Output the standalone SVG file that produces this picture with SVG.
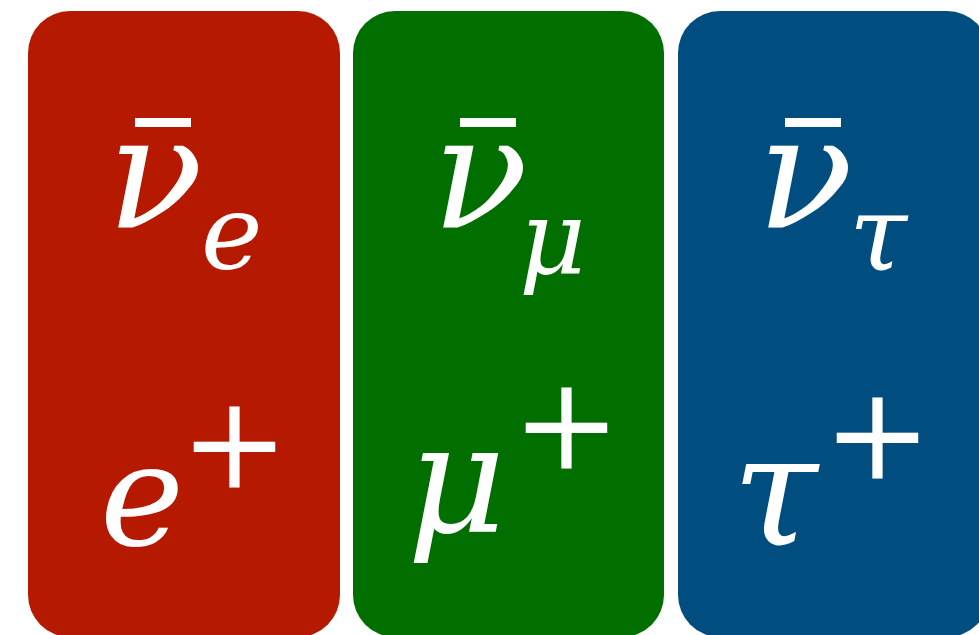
<svg xmlns="http://www.w3.org/2000/svg" width="979" height="635" viewBox="0 0 979 635">
<style>
.m{font-family:"DejaVu Serif",serif;font-style:italic;fill:#fff}
.p{font-family:"DejaVu Serif",serif;fill:#fff}
</style>
<rect width="979" height="635" fill="#fff"/>
<g id="electron">
<rect x="28" y="11" width="312" height="626" rx="42" fill="#B51A00"/>
<rect x="135" y="118" width="56" height="9" fill="#fff"/>
<text class="m" x="107" y="228" font-size="158">ν</text>
<text class="m" x="201" y="269" font-size="104">e</text>
<text class="m" x="100" y="545" font-size="142">e</text>
<text class="p" x="180" y="487" font-size="130">+</text>
</g>
<g id="muon">
<rect x="353" y="11" width="311" height="626" rx="42" fill="#006F00"/>
<rect x="460" y="118" width="56" height="9" fill="#fff"/>
<text class="m" x="432" y="228" font-size="158">ν</text>
<text class="m" x="519" y="274" font-size="103">μ</text>
<text class="m" x="407" y="531" font-size="152">μ</text>
<text class="p" x="512" y="468" font-size="130">+</text>
</g>
<g id="tau">
<rect x="678" y="11" width="311" height="626" rx="42" fill="#004E80"/>
<rect x="785" y="118" width="56" height="9" fill="#fff"/>
<text class="m" x="757" y="228" font-size="158">ν</text>
<text class="m" x="849" y="270" font-size="105">τ</text>
<text class="m" x="732" y="545" font-size="155">τ</text>
<text class="p" x="823" y="478" font-size="130">+</text>
</g>
<g id="connectors"/>
</svg>
